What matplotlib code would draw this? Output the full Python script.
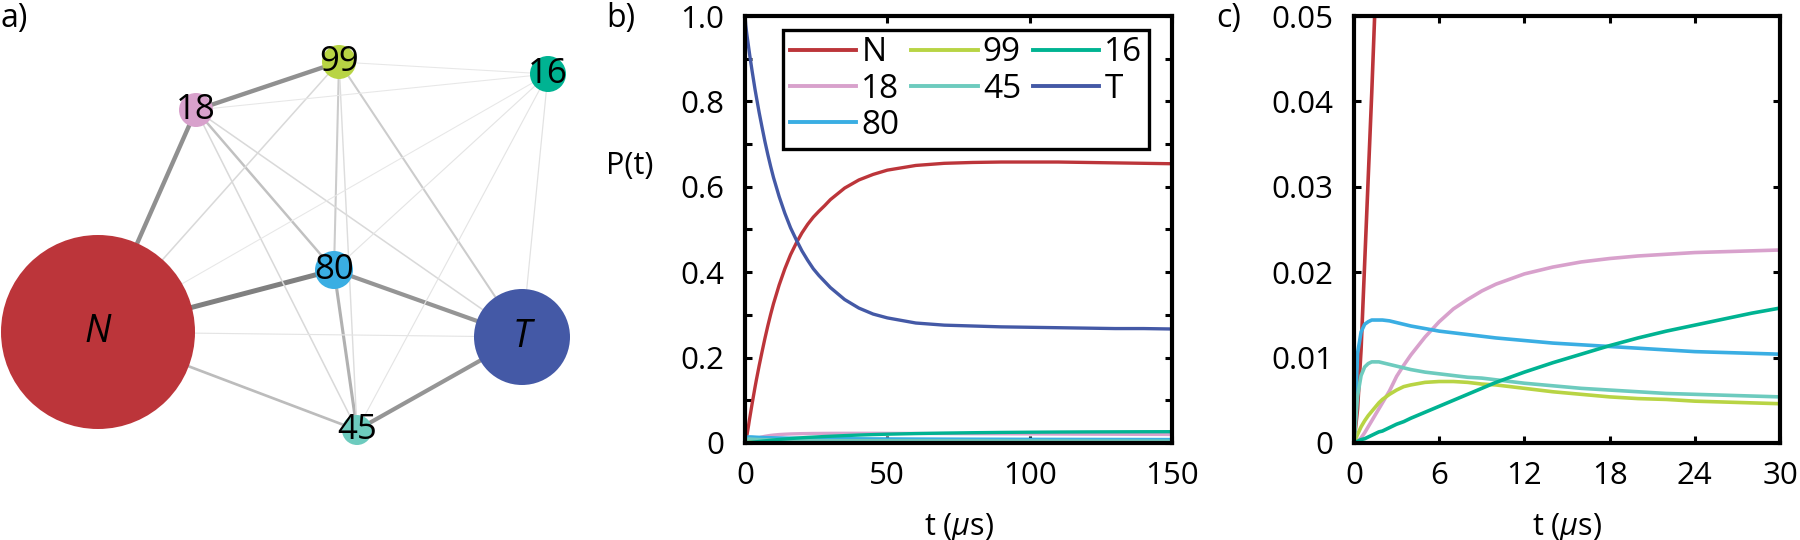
import matplotlib
matplotlib.use("Agg")
import matplotlib.pyplot as plt
from matplotlib.patches import Circle
from matplotlib.ticker import MultipleLocator

plt.rcParams['font.family'] = ['Open Sans', 'DejaVu Sans']
plt.rcParams['mathtext.fontset'] = 'custom'
plt.rcParams['mathtext.rm'] = 'Open Sans'
plt.rcParams['mathtext.it'] = 'Open Sans:italic'

# ---------------- data ----------------
states = ["N", "18", "80", "99", "45", "16", "T"]
colors = {"N": "#BC353A", "18": "#D8A1CC", "80": "#3AAEE3", "99": "#B8D444",
          "45": "#6DCBBE", "16": "#00B392", "T": "#4459A6"}

t = [0, 0.25, 0.5, 0.75, 1, 1.25, 1.5, 1.75, 2, 2.5, 3, 3.5, 4, 5, 6, 7, 8, 9, 10,
     12, 14, 16, 18, 20, 22, 24, 26, 28, 30, 35, 40, 45, 50, 60, 70, 80, 90, 100,
     110, 120, 130, 140, 150]

P_N = [0, 0.004, 0.011, 0.021, 0.031, 0.041, 0.052, 0.062, 0.072, 0.092, 0.111, 0.130,
       0.148, 0.182, 0.214, 0.245, 0.274, 0.301, 0.326, 0.370, 0.408, 0.441, 0.468,
       0.492, 0.512, 0.529, 0.543, 0.556, 0.570, 0.597, 0.616, 0.629, 0.639, 0.650,
       0.655, 0.657, 0.658, 0.658, 0.658, 0.657, 0.656, 0.655, 0.654]
P_T = [1.0, 0.979, 0.965, 0.952, 0.940, 0.928, 0.916, 0.904, 0.893, 0.871, 0.850, 0.829,
       0.810, 0.773, 0.739, 0.706, 0.676, 0.648, 0.622, 0.577, 0.538, 0.504, 0.476,
       0.450, 0.428, 0.408, 0.392, 0.378, 0.364, 0.336, 0.316, 0.302, 0.293, 0.281,
       0.276, 0.274, 0.272, 0.271, 0.270, 0.269, 0.268, 0.268, 0.267]
P_80 = [0, 0.0105, 0.0130, 0.0139, 0.0142, 0.0144, 0.0144, 0.0144, 0.0144, 0.0143,
        0.0141, 0.0139, 0.0137, 0.0134, 0.0131, 0.0129, 0.0127, 0.0125, 0.0123, 0.0120,
        0.0117, 0.0115, 0.0113, 0.0111, 0.0109, 0.0107, 0.0106, 0.0105, 0.0104, 0.0102,
        0.0100, 0.0098, 0.0097, 0.0094, 0.0092, 0.0090, 0.0089, 0.0087, 0.0086, 0.0085,
        0.0084, 0.0083, 0.0082]
P_45 = [0, 0.0055, 0.0079, 0.0089, 0.0093, 0.0095, 0.0095, 0.0095, 0.0094, 0.0092,
        0.0090, 0.0088, 0.0086, 0.0083, 0.0081, 0.0079, 0.0077, 0.0076, 0.0074, 0.0070,
        0.0067, 0.0064, 0.0062, 0.0060, 0.0058, 0.0057, 0.0056, 0.0055, 0.0054, 0.0052,
        0.0051, 0.0050, 0.0049, 0.0047, 0.0046, 0.0045, 0.0044, 0.0044, 0.0043, 0.0043,
        0.0042, 0.0042, 0.0042]
P_99 = [0, 0.0010, 0.0019, 0.0026, 0.0032, 0.0037, 0.0042, 0.0047, 0.0051, 0.0057,
        0.0062, 0.0066, 0.0068, 0.0071, 0.0072, 0.0072, 0.0071, 0.0069, 0.0068, 0.0064,
        0.0060, 0.0057, 0.0054, 0.0052, 0.0051, 0.0049, 0.0048, 0.0047, 0.0046, 0.0044,
        0.0043, 0.0042, 0.0041, 0.0039, 0.0038, 0.0038, 0.0037, 0.0037, 0.0036, 0.0036,
        0.0036, 0.0035, 0.0035]
P_18 = [0, 0.0002, 0.0006, 0.0012, 0.0019, 0.0026, 0.0033, 0.0040, 0.0047, 0.0061,
        0.0078, 0.0091, 0.0103, 0.0124, 0.0142, 0.0157, 0.0168, 0.0178, 0.0186, 0.0198,
        0.0206, 0.0212, 0.0216, 0.0219, 0.0221, 0.0223, 0.0224, 0.0225, 0.0226, 0.0227,
        0.0227, 0.0227, 0.0226, 0.0224, 0.0222, 0.0219, 0.0216, 0.0213, 0.0210, 0.0207,
        0.0205, 0.0202, 0.0200]
P_16 = [0, 0.0002, 0.0004, 0.0005, 0.0007, 0.0009, 0.0011, 0.0013, 0.0014, 0.0018,
        0.0022, 0.0025, 0.0029, 0.0036, 0.0043, 0.0050, 0.0057, 0.0064, 0.0071, 0.0083,
        0.0094, 0.0104, 0.0114, 0.0123, 0.0131, 0.0138, 0.0145, 0.0152, 0.0158, 0.0173,
        0.0186, 0.0197, 0.0206, 0.0221, 0.0232, 0.0241, 0.0248, 0.0253, 0.0257, 0.0260,
        0.0262, 0.0264, 0.0265]
series = {"N": P_N, "18": P_18, "80": P_80, "99": P_99, "45": P_45, "16": P_16, "T": P_T}

# network (panel a): node layout (pixels), node radius, edge weights
node_names = ["N", "18", "99", "16", "80", "T", "45"]
node_x = [98, 196, 339, 548, 334, 522, 357]
node_y = [332, 110, 62, 74, 270, 337, 430]
node_r = [97, 17, 17, 18, 19, 48, 15]
edges = [("N", "18"), ("18", "99"), ("N", "80"), ("80", "T"), ("45", "T"),
         ("80", "45"), ("N", "45"), ("18", "80"), ("99", "80"), ("99", "T"),
         ("18", "T"), ("18", "45"), ("99", "N"), ("99", "45"), ("16", "T"),
         ("16", "45"), ("16", "80"), ("16", "N"), ("16", "99"), ("16", "18"),
         ("N", "T")]
edge_weight = [0.85, 0.85, 1.0, 0.8, 0.8, 0.55, 0.45, 0.4, 0.3, 0.3,
               0.18, 0.18, 0.18, 0.15, 0.1, 0.08, 0.08, 0.06, 0.06, 0.06, 0.08]

# ---------------- figure ----------------
fig = plt.figure(figsize=(18, 5.4), dpi=100)
W, H = 1800.0, 540.0

# panel a
axa = fig.add_axes([0, 0, 600 / W, 1])
axa.set_xlim(0, 600)
axa.set_ylim(540, 0)
axa.axis("off")
pos = {n: (x, y) for n, x, y in zip(node_names, node_x, node_y)}
for (a, b), w in zip(edges, edge_weight):
    g = 0.93 - 0.43 * w
    lw = (0.8 + 4.2 * w) / 1.389
    axa.plot([pos[a][0], pos[b][0]], [pos[a][1], pos[b][1]], color=(g, g, g),
             lw=lw, zorder=1, solid_capstyle="butt")
for n, x, y, r in zip(node_names, node_x, node_y, node_r):
    axa.add_patch(Circle((x, y), r, facecolor=colors[n], edgecolor="none", zorder=2))
    if n in ("N", "T"):
        axa.text(x, y, n, fontsize=27, style="italic", ha="center", va="center", zorder=3)
    else:
        axa.text(x, y, n, fontsize=25, ha="center", va="center", zorder=3)

def style_axes(ax):
    for s in ax.spines.values():
        s.set_linewidth(3.0)
    ax.tick_params(which="both", direction="in", top=True, right=True,
                   length=5, width=2.2, labelsize=22.5)
    ax.tick_params(axis="y", pad=15)
    ax.tick_params(axis="x", pad=13)

y0 = 1 - 443 / H
hh = (443 - 16) / H

# panel b
axb = fig.add_axes([745 / W, y0, 427 / W, hh])
for n in states:
    axb.plot(t, series[n], color=colors[n], lw=2.4, label=n)
axb.set_xlim(0, 150)
axb.set_ylim(0, 1.0)
axb.set_xticks([0, 50, 100, 150])
axb.set_yticks([0, 0.2, 0.4, 0.6, 0.8, 1.0])
axb.set_yticklabels(["0", "0.2", "0.4", "0.6", "0.8", "1.0"])
axb.yaxis.set_minor_locator(MultipleLocator(0.1))
style_axes(axb)
axb.set_xlabel(r"t ($\mu$s)", fontsize=22, labelpad=14)
axb.text(-0.326, 0.649, "P(t)", transform=axb.transAxes, fontsize=22,
         ha="left", va="center")
leg = axb.legend(ncol=3, loc="upper left", bbox_to_anchor=(0.089, 0.968),
                 borderaxespad=0, fontsize=24, handlelength=2.0, handletextpad=0.15,
                 columnspacing=0.35, labelspacing=0.1, borderpad=0.2,
                 fancybox=False, framealpha=1, edgecolor="black")
leg.get_frame().set_linewidth(2.4)
for l in leg.get_lines():
    l.set_linewidth(2.8)

# panel c
axc = fig.add_axes([1354 / W, y0, 426 / W, hh])
for n in states:
    axc.plot(t, series[n], color=colors[n], lw=2.6)
axc.set_xlim(0, 30)
axc.set_ylim(0, 0.05)
axc.set_xticks([0, 6, 12, 18, 24, 30])
axc.set_yticks([0, 0.01, 0.02, 0.03, 0.04, 0.05])
axc.set_yticklabels(["0", "0.01", "0.02", "0.03", "0.04", "0.05"])
style_axes(axc)
axc.set_xlabel(r"t ($\mu$s)", fontsize=22, labelpad=14)

fig.text(0 / W, 1 - 2 / H, "a)", fontsize=23, ha="left", va="top")
fig.text(606 / W, 1 - 2 / H, "b)", fontsize=23, ha="left", va="top")
fig.text(1216 / W, 1 - 2 / H, "c)", fontsize=23, ha="left", va="top")

fig.savefig("out.png", dpi=100)
